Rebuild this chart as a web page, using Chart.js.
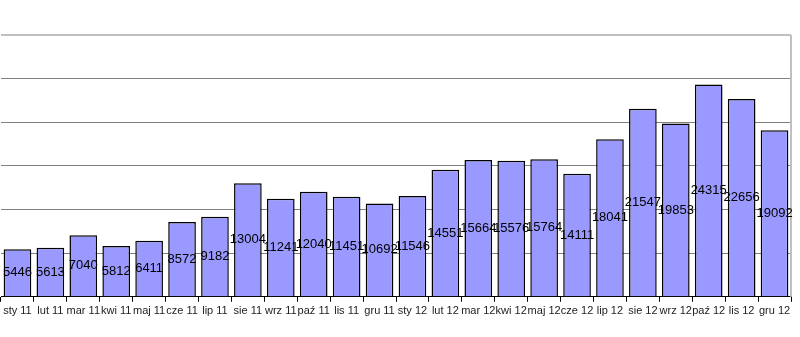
<!DOCTYPE html>
<html lang="pl">
<head>
    <meta charset="UTF-8">
    <title>Sprzedaż miesięczna</title>
    <script src="https://cdn.jsdelivr.net/npm/chart.js"></script>
    <style>
      html, body { margin: 0; padding: 0; background: #fff; }
      #wrap { width: 800px; height: 337px; }
    </style>
</head>
<body>
    <div id="wrap"><canvas id="bar-chart"></canvas></div>
    <script>
      // miesiące i wartości
      const miesiace = ['sty 11', 'lut 11', 'mar 11', 'kwi 11', 'maj 11', 'cze 11', 'lip 11', 'sie 11',
                        'wrz 11', 'paź 11', 'lis 11', 'gru 11', 'sty 12', 'lut 12', 'mar 12', 'kwi 12',
                        'maj 12', 'cze 12', 'lip 12', 'sie 12', 'wrz 12', 'paź 12', 'lis 12', 'gru 12'];
      const wartosci = [5446, 5613, 7040, 5812, 6411, 8572, 9182, 13004,
                        11241, 12040, 11451, 10692, 11546, 14551, 15664, 15576,
                        15764, 14111, 18041, 21547, 19853, 24315, 22656, 19092];
      const osY = { min: 0, max: 30000, krok: 5000 };

      // wartosci na srodku slupkow
      const etykiety = {
        id: 'etykiety',
        afterDatasetsDraw(chart) {
          const ctx = chart.ctx;
          const meta = chart.getDatasetMeta(0);
          ctx.save();
          ctx.font = '13px "Liberation Sans", Arial, sans-serif';
          ctx.fillStyle = '#000';
          ctx.textAlign = 'center';
          ctx.textBaseline = 'middle';
          meta.data.forEach((bar, i) => {
            const y = (bar.y + bar.base) / 2;
            ctx.fillText(String(wartosci[i]), bar.x, y);
          });
          ctx.restore();
        }
      };

      // prawa krawedz obszaru wykresu
      const ramka = {
        id: 'ramka',
        beforeDatasetsDraw(chart) {
          const a = chart.chartArea;
          const ctx = chart.ctx;
          ctx.save();
          ctx.strokeStyle = '#c0c0c0';
          ctx.lineWidth = 2;
          ctx.beginPath();
          ctx.moveTo(a.right, a.top);
          ctx.lineTo(a.right, a.bottom);
          ctx.stroke();
          ctx.restore();
        }
      };

      new Chart(document.getElementById('bar-chart').getContext('2d'), {
        type: 'bar',
        data: {
          labels: miesiace,
          datasets: [{
            data: wartosci,
            backgroundColor: '#9999ff',
            borderColor: '#000',
            borderWidth: 1.5,
            barPercentage: 0.84,
            categoryPercentage: 1
          }]
        },
        options: {
          responsive: true,
          maintainAspectRatio: false,
          animation: false,
          layout: { padding: { left: 1, right: 9, top: 35, bottom: 16 } },
          plugins: { legend: { display: false }, tooltip: { enabled: false } },
          scales: {
            x: {
              grid: { drawOnChartArea: false, color: '#000', tickLength: 5 },
              border: { color: '#000', width: 1 },
              ticks: {
                autoSkip: false, maxRotation: 0, padding: 3, color: '#222',
                font: { family: '"Liberation Sans", Arial, sans-serif', size: 11 }
              }
            },
            y: {
              min: osY.min, max: osY.max,
              grid: {
                drawTicks: false,
                color: ctx => ctx.tick && ctx.tick.value === osY.max ? '#c0c0c0' : '#808080',
                lineWidth: ctx => ctx.tick && ctx.tick.value === osY.max ? 2 : 1
              },
              border: { display: false },
              ticks: { display: false, stepSize: osY.krok }
            }
          }
        },
        plugins: [ramka, etykiety]
      });
    </script>
</body>
</html>
